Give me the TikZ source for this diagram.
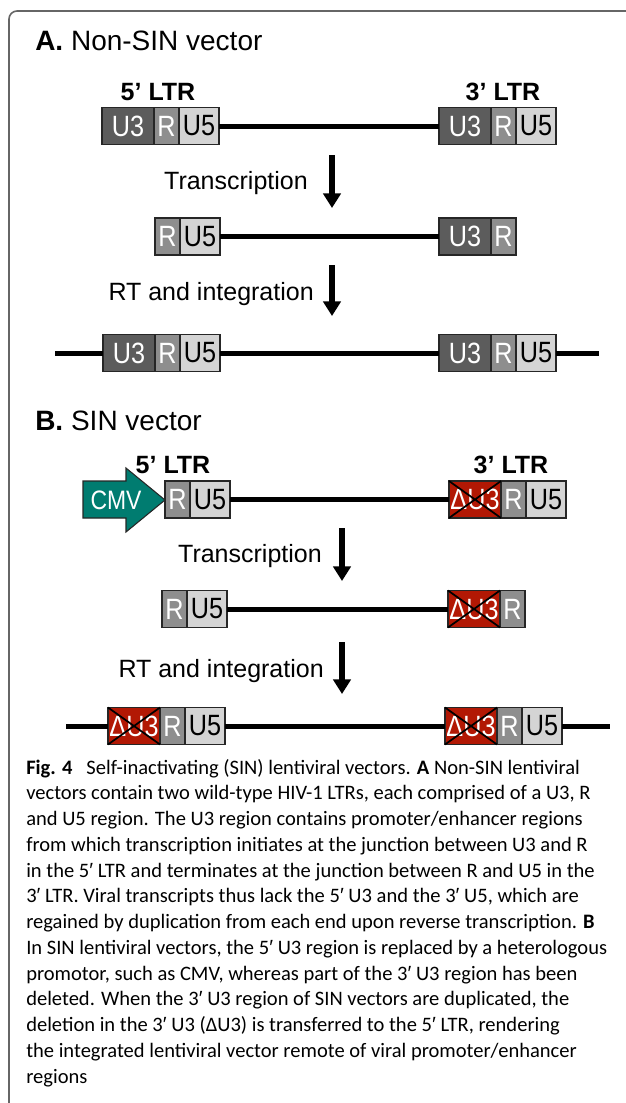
\documentclass[tikz,border=0pt]{standalone}
\usepackage{fontspec}
\setmainfont{Liberation Sans}
\newfontfamily\segfont{Liberation Sans}[FakeStretch=0.86]
\newfontfamily\capfont{Carlito}
\newfontfamily\primefont{Liberation Sans}
\newcommand{\pr}{{\primefont ′}}
\usetikzlibrary{positioning,arrows.meta}

\definecolor{uthree}{RGB}{92,92,92}
\definecolor{rreg}{RGB}{142,142,142}
\definecolor{ufive}{RGB}{212,212,212}
\definecolor{delred}{RGB}{178,24,4}
\definecolor{cmvteal}{RGB}{0,124,112}

\tikzset{
  seg/.style={draw=black!85, line width=0.8pt, minimum height=27.75pt, inner sep=0pt, outer sep=0pt, font=\segfont\fontsize{22}{22}\selectfont},
  uthr/.style={seg, fill=uthree, text=white, minimum width=39pt},
  rr/.style={seg, fill=rreg, text=white, minimum width=18.75pt},
  ufv/.style={seg, fill=ufive, text=black, minimum width=30pt},
  dlt/.style={seg, fill=delred, text=white, minimum width=39pt},
  dna/.style={line width=3.75pt},
  stepar/.style={line width=4.2pt, -{Triangle[width=13pt,length=11pt]}},
  ltr/.style={font=\bfseries\fontsize{18.75}{18.75}\selectfont, anchor=base, inner sep=0pt},
  steplbl/.style={font=\fontsize{18.75}{18.75}\selectfont, anchor=base east, inner sep=0pt},
  ttl/.style={font=\fontsize{21}{21}\selectfont, anchor=base west, inner sep=0pt},
}

\begin{document}
\begin{tikzpicture}[x=0.75pt,y=0.75pt,yscale=-1,xscale=1]
\useasboundingbox (0,0) rectangle (625,1103);
% frame
\draw[black!60, line width=1.2pt, rounded corners=6pt] (9,1110) -- (9,11) -- (630,11);

% A. Non-SIN vector
\node[ttl] (ttla) at (35,50) {\textbf{A.} Non-SIN vector};
\node[ltr] (ltra5) at (158,100) {5’ LTR};
\node[ltr] (ltra3) at (503,100) {3’ LTR};
\node[uthr, anchor=west] (u3a) at (102,126) {U3};
\node[rr, right=0pt of u3a] (ra) {R};
\node[ufv, right=0pt of ra] (u5a) {U5};
\node[uthr, anchor=west] (u3b) at (439,126) {U3};
\node[rr, right=0pt of u3b] (rb) {R};
\node[ufv, right=0pt of rb] (u5b) {U5};
\draw[dna] (u5a) -- (u3b);

\node[steplbl] (tra) at (308,189) {Transcription};
\coordinate (a1s) at (332,155);
\coordinate (a1e) at (332,208);
\draw[stepar] (a1s) -- (a1e);

\node[rr, anchor=west] (rc) at (155,236.5) {R};
\node[ufv, right=0pt of rc] (u5c) {U5};
\node[uthr, anchor=west] (u3c) at (439,236.5) {U3};
\node[rr, right=0pt of u3c] (rd) {R};
\draw[dna] (u5c) -- (u3c);

\node[steplbl] (rta) at (314,300) {RT and integration};
\coordinate (a2s) at (332,265);
\coordinate (a2e) at (332,316);
\draw[stepar] (a2s) -- (a2e);

\coordinate (la) at (55,353);
\coordinate (lb) at (599,353);
\node[uthr, anchor=west] (u3d) at (103,353) {U3};
\node[rr, right=0pt of u3d] (re) {R};
\node[ufv, right=0pt of re] (u5d) {U5};
\node[uthr, anchor=west] (u3e) at (439,353) {U3};
\node[rr, right=0pt of u3e] (rf) {R};
\node[ufv, right=0pt of rf] (u5e) {U5};
\draw[dna] (la) -- (u3d);
\draw[dna] (u5d) -- (u3e);
\draw[dna] (u5e) -- (lb);

% B. SIN vector
\node[ttl] (ttlb) at (35,430) {\textbf{B.} SIN vector};
\node[ltr] (ltrb5) at (173,473) {5’ LTR};
\node[ltr] (ltrb3) at (511,473) {3’ LTR};
\draw[draw=black!85, line width=0.8pt, fill=cmvteal] (83,481) -- (126,481) -- (126,468) -- (165,500) -- (126,532) -- (126,518) -- (83,518) -- cycle;
\node[font=\segfont\fontsize{20}{20}\selectfont, text=white, inner sep=0pt] (cmv) at (116,500) {CMV};
\node[rr, anchor=west] (rg) at (165,499.5) {R};
\node[ufv, right=0pt of rg] (u5g) {U5};
\node[dlt, anchor=west] (dg) at (449,499.5) {ΔU3};
\node[rr, right=0pt of dg] (rh) {R};
\node[ufv, right=0pt of rh] (u5h) {U5};
\draw[dna] (u5g) -- (dg);

\node[steplbl] (trb) at (322,562) {Transcription};
\coordinate (a3s) at (342,528);
\coordinate (a3e) at (342,581);
\draw[stepar] (a3s) -- (a3e);

\node[rr, anchor=west] (ri) at (162,609) {R};
\node[ufv, right=0pt of ri] (u5i) {U5};
\node[dlt, anchor=west] (di) at (448,609) {ΔU3};
\node[rr, right=0pt of di] (rj) {R};
\draw[dna] (u5i) -- (di);

\node[steplbl] (rtb) at (324,677) {RT and integration};
\coordinate (a4s) at (342,642);
\coordinate (a4e) at (342,694);
\draw[stepar] (a4s) -- (a4e);

\coordinate (lc) at (66,726);
\coordinate (ld) at (610,726);
\node[dlt, anchor=west] (dk) at (108,726) {ΔU3};
\node[rr, right=0pt of dk] (rk) {R};
\node[ufv, right=0pt of rk] (u5k) {U5};
\node[dlt, anchor=west] (dl) at (445,726) {ΔU3};
\node[rr, right=0pt of dl] (rl) {R};
\node[ufv, right=0pt of rl] (u5l) {U5};
\draw[dna] (lc) -- (dk);
\draw[dna] (u5k) -- (dl);
\draw[dna] (u5l) -- (ld);

% crosses over the deleted U3
\foreach \d in {dg,di,dk,dl}
  \draw[line width=1.3pt] (\d.north west) -- (\d.south east) (\d.south west) -- (\d.north east);

% caption (base = last line)
\node[anchor=base west, inner sep=0pt, align=left, font=\capfont\fontsize{15.4}{19.3}\selectfont] (cap) at (26,1083) {%
\textbf{Fig. 4}\hspace{0.45em} Self-inactivating (SIN) lentiviral vectors. \textbf{A} Non-SIN lentiviral\\
vectors contain two wild-type HIV-1 LTRs, each comprised of a U3, R\\
and U5 region. The U3 region contains promoter/enhancer regions\\
from which transcription initiates at the junction between U3 and R\\
in the 5\pr{} LTR and terminates at the junction between R and U5 in the\\
3\pr{} LTR. Viral transcripts thus lack the 5\pr{} U3 and the 3\pr{} U5, which are\\
regained by duplication from each end upon reverse transcription. \textbf{B}\\
In SIN lentiviral vectors, the 5\pr{} U3 region is replaced by a heterologous\\
promotor, such as CMV, whereas part of the 3\pr{} U3 region has been\\
deleted. When the 3\pr{} U3 region of SIN vectors are duplicated, the\\
deletion in the 3\pr{} U3 (ΔU3) is transferred to the 5\pr{} LTR, rendering\\
the integrated lentiviral vector remote of viral promoter/enhancer\\
regions};
\end{tikzpicture}
\end{document}
